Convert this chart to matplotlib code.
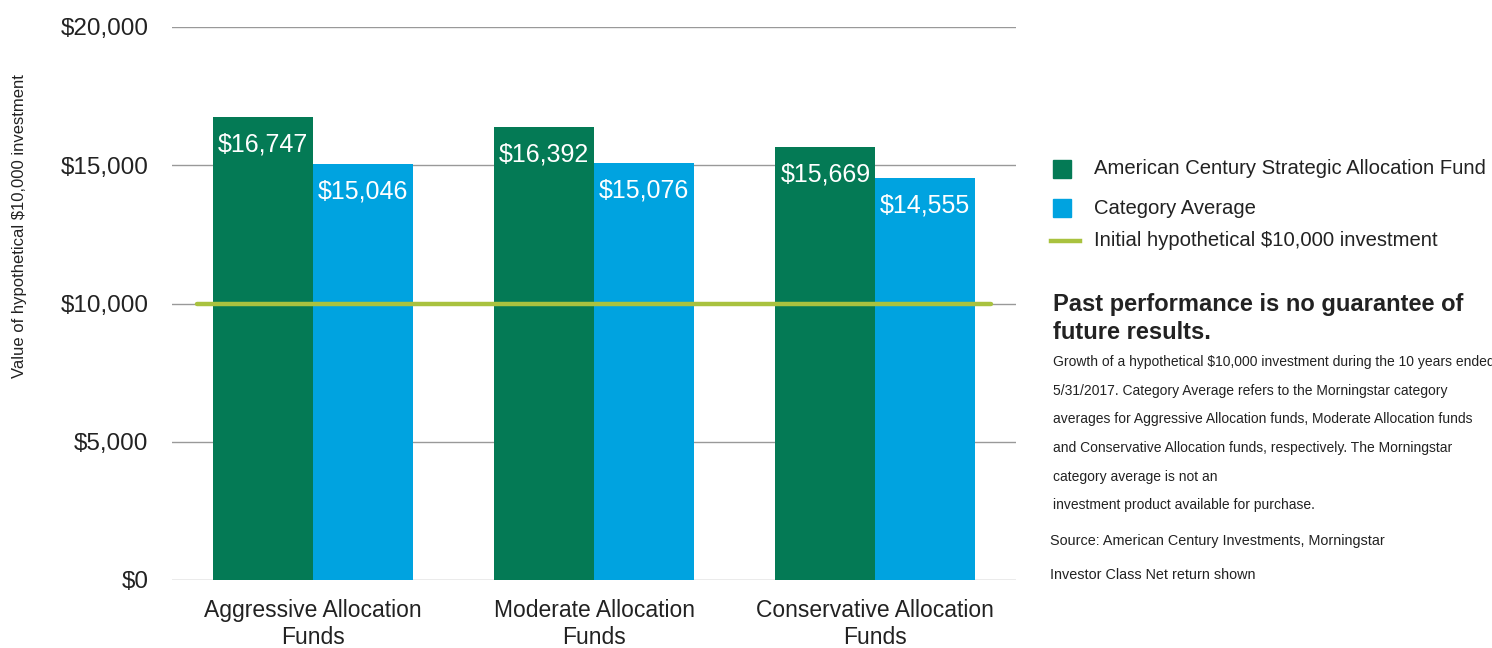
import matplotlib.pyplot as plt
from matplotlib.patches import Rectangle
from matplotlib.lines import Line2D
import numpy as np

categories = ['Aggressive Allocation\nFunds', 'Moderate Allocation\nFunds', 'Conservative Allocation\nFunds']
fund_values = [16747, 16392, 15669]
category_avg = [15046, 15076, 14555]
initial_investment = 10000
y_ticks = [0, 5000, 10000, 15000, 20000]

GREEN = '#047a55'
BLUE = '#00a3e0'
LIME = '#a9c23f'
TEXT = '#222222'

plt.rcParams['font.family'] = ['Liberation Sans', 'DejaVu Sans']

fig = plt.figure(figsize=(14.92, 6.48), dpi=100)
ax = fig.add_axes([172 / 1492, 1 - 580 / 648, 844 / 1492, 553 / 648])

x = np.arange(len(categories))
w = 0.355
bars1 = ax.bar(x - w / 2, fund_values, width=w, color=GREEN, zorder=2)
bars2 = ax.bar(x + w / 2, category_avg, width=w, color=BLUE, zorder=2)

for bars, vals in [(bars1, fund_values), (bars2, category_avg)]:
    for b, v in zip(bars, vals):
        ax.annotate('${:,}'.format(v), (b.get_x() + b.get_width() / 2, v),
                    xytext=(0, -20), textcoords='offset points',
                    ha='center', va='center', color='white', fontsize=18)

ax.plot([-0.41, 2.41], [initial_investment, initial_investment], color=LIME,
        lw=3.2, zorder=3, solid_capstyle='round')

ax.set_xlim(-0.5, 2.5)
ax.set_ylim(0, 20000)
ax.set_yticks(y_ticks)
ax.set_yticklabels(['${:,}'.format(t) for t in y_ticks], fontsize=17.5, color=TEXT)
ax.set_xticks(x)
ax.set_xticklabels(categories, fontsize=16.5, color=TEXT, linespacing=1.2)
ax.tick_params(axis='y', length=0, pad=17)
ax.tick_params(axis='x', length=0, pad=14)
ax.grid(axis='y', color='#999999', lw=1, zorder=0)
for s in ax.spines.values():
    s.set_visible(False)

fig.text(20 / 1492, 1 - 226 / 648, 'Value of hypothetical $10,000 investment',
         rotation=90, ha='center', va='center', fontsize=12, color=TEXT)

# legend drawn by hand on the right
leg_items = [('American Century Strategic Allocation Fund', GREEN, 169),
             ('Category Average', BLUE, 208)]
for label, col, yc in leg_items:
    fig.add_artist(Rectangle((1053 / 1492, 1 - (yc + 9) / 648), 18 / 1492, 18 / 648,
                             transform=fig.transFigure, color=col))
    fig.text(1094 / 1492, 1 - yc / 648, label, ha='left', va='center',
             fontsize=14.6, color=TEXT)
fig.add_artist(Line2D([1051 / 1492, 1080 / 1492], [1 - 241 / 648] * 2,
                      transform=fig.transFigure, color=LIME, lw=3.2))
fig.text(1094 / 1492, 1 - 241 / 648, 'Initial hypothetical $10,000 investment',
         ha='left', va='center', fontsize=14.6, color=TEXT)

fig.text(1053 / 1492, 1 - 304 / 648, 'Past performance is no guarantee of',
         ha='left', va='center', fontsize=17, weight='bold', color=TEXT)
fig.text(1053 / 1492, 1 - 333 / 648, 'future results.',
         ha='left', va='center', fontsize=17, weight='bold', color=TEXT)

notes = ['Growth of a hypothetical $10,000 investment during the 10 years ended',
         '5/31/2017. Category Average refers to the Morningstar category',
         'averages for Aggressive Allocation funds, Moderate Allocation funds',
         'and Conservative Allocation funds, respectively. The Morningstar',
         'category average is not an',
         'investment product available for purchase.']
for i, line in enumerate(notes):
    fig.text(1053 / 1492, 1 - (362 + i * 28.7) / 648, line, ha='left', va='center',
             fontsize=10, color=TEXT)
fig.text(1050 / 1492, 1 - 541 / 648, 'Source: American Century Investments, Morningstar',
         ha='left', va='center', fontsize=10.4, color=TEXT)
fig.text(1050 / 1492, 1 - 575 / 648, 'Investor Class Net return shown',
         ha='left', va='center', fontsize=10.4, color=TEXT)

fig.savefig('out.png', dpi=100)
